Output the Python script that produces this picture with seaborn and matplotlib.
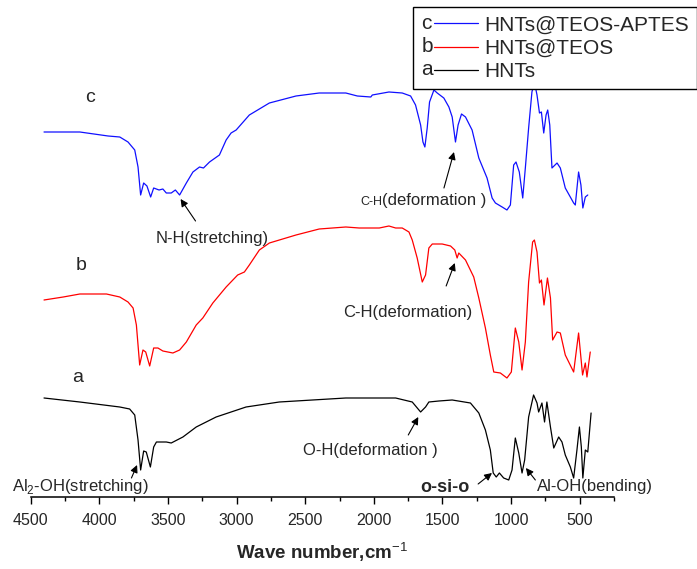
import numpy as np
import pandas as pd
import matplotlib
matplotlib.use("Agg")
import matplotlib.pyplot as plt
import seaborn as sns
from matplotlib.legend_handler import HandlerLine2D
from matplotlib.text import Text

# Espectros FTIR (numero de onda, senal en unidades arbitrarias)
wn_c = [4403, 4142, 3936, 3851, 3791, 3742, 3718, 3699, 3677, 3653, 3626, 3604, 3565, 3537,
        3512, 3476, 3446, 3415, 3366, 3318, 3270, 3241, 3197, 3125, 3076, 3040, 3003, 2907,
        2761, 2567, 2398, 2204, 2120, 2022, 2011, 1890, 1793, 1732, 1696, 1659, 1642, 1628,
        1611, 1594, 1562, 1538, 1490, 1453, 1429, 1405, 1386, 1361, 1332, 1284, 1235, 1175,
        1138, 1114, 1065, 1030, 1005, 981, 964, 940, 915, 896, 872, 848, 830, 811, 793, 779,
        762, 745, 733, 718, 702, 665, 641, 605, 544, 532, 508, 491, 477, 459, 441]
t_c = [365, 365, 361, 360, 355, 347, 330, 302, 314, 311, 300, 309, 307, 308,
       304, 304, 307, 302, 314, 325, 330, 329, 335, 342, 357, 364, 367, 382,
       394, 401, 404, 404, 401, 400, 402, 405, 404, 401, 392, 372, 355, 350,
       369, 395, 407, 404, 399, 390, 380, 355, 372, 383, 380, 367, 339, 319,
       299, 294, 290, 287, 292, 332, 335, 325, 299, 329, 369, 405, 415, 402, 384, 385,
       364, 382, 387, 372, 329, 334, 329, 309, 294, 292, 325, 312, 289, 300, 302]

wn_b = [4403, 4263, 4142, 3948, 3851, 3791, 3754, 3730, 3706, 3682, 3662, 3633, 3604, 3573,
        3537, 3464, 3415, 3366, 3294, 3246, 3173, 3076, 2992, 2943, 2907, 2834, 2761, 2567,
        2398, 2204, 2107, 1960, 1890, 1841, 1793, 1744, 1720, 1684, 1647, 1623, 1599, 1574,
        1502, 1441, 1410, 1393, 1381, 1332, 1272, 1235, 1187, 1151, 1126, 1078, 1030, 998,
        969, 944, 920, 896, 872, 843, 830, 811, 793, 779, 760, 735, 713, 697, 665, 641,
        605, 544, 508, 479, 459, 447, 423]
t_b = [197, 200, 203, 203, 200, 195, 189, 172, 132, 147, 145, 131, 149, 149,
       146, 144, 147, 155, 172, 179, 194, 210, 222, 225, 232, 247, 254, 262,
       268, 270, 269, 269, 271, 269, 269, 265, 257, 239, 215, 222, 249, 253,
       253, 251, 247, 239, 244, 237, 220, 199, 169, 142, 125, 124, 119, 125,
       169, 155, 127, 155, 215, 255, 257, 245, 214, 217, 192, 219, 199, 157, 165, 164,
       142, 125, 164, 122, 134, 120, 145]

wn_a = [4403, 4142, 3851, 3779, 3742, 3718, 3699, 3677, 3658, 3628, 3604, 3584, 3512, 3476,
        3391, 3294, 3149, 2931, 2689, 2447, 2204, 1841, 1720, 1659, 1623, 1599, 1526, 1429,
        1296, 1235, 1187, 1151, 1130, 1108, 1085, 1054, 1017, 993, 969, 944, 920, 901, 872,
        836, 811, 799, 775, 756, 739, 713, 689, 653, 629, 605, 568, 544, 520, 502, 488,
        477, 459, 441, 417]
t_a = [99, 95, 90, 88, 82, 57, 27, 46, 45, 30, 50, 55, 55, 54,
       60, 70, 80, 90, 95, 97, 99, 99, 95, 85, 90, 95, 96, 97,
       94, 84, 67, 47, 24, 20, 24, 19, 17, 27, 59, 44, 24, 37, 80,
       102, 94, 85, 94, 75, 95, 70, 49, 60, 55, 42, 30, 19, 47, 70, 50,
       19, 47, 45, 84]

letters = ["c", "b", "a"]
names = ["HNTs@TEOS-APTES", "HNTs@TEOS", "HNTs"]


class LetterLine(HandlerLine2D):
    # pone la letra de la muestra delante de la linea de la leyenda
    def __init__(self, letter):
        super().__init__()
        self.letter = letter

    def create_artists(self, legend, orig_handle, xdescent, ydescent, width, height, fontsize, trans):
        arts = super().create_artists(legend, orig_handle, xdescent, ydescent, width, height, fontsize, trans)
        gap = 0.58 * fontsize
        ymid = (height - ydescent) / 2
        for a in arts:
            xd = np.asarray(a.get_xdata(), dtype=float)
            yd = np.asarray(a.get_ydata(), dtype=float)
            if len(xd) >= 2 and a.get_linestyle() not in ("None", "none", ""):
                ymid = yd[0]
                a.set_data([xd.min() + gap, xd.max()], [ymid, ymid])
        t = Text(-xdescent, ymid, self.letter, fontsize=fontsize, va="center", ha="left",
                 transform=trans)
        return list(arts) + [t]


sns.set_style("ticks")
plt.rcParams["font.family"] = ["Liberation Sans", "DejaVu Sans"]
plt.rcParams["mathtext.fontset"] = "custom"
plt.rcParams["mathtext.rm"] = "Liberation Sans"
plt.rcParams["mathtext.bf"] = "Liberation Sans:bold"
plt.rcParams["axes.unicode_minus"] = False

fig = plt.figure(figsize=(6.97, 5.69), dpi=100)
ax = fig.add_axes([30.7 / 697, 72 / 569, (614 - 30.7) / 697, 497 / 569])

df_c = pd.DataFrame({"wn": wn_c, "T": t_c})
df_b = pd.DataFrame({"wn": wn_b, "T": t_b})
df_a = pd.DataFrame({"wn": wn_a, "T": t_a})

sns.lineplot(data=df_c, x="wn", y="T", color="#1010ff", linewidth=0.9, ax=ax)
lc = ax.lines[-1]
sns.lineplot(data=df_b, x="wn", y="T", color="#ff0000", linewidth=0.9, ax=ax)
lb = ax.lines[-1]
sns.lineplot(data=df_a, x="wn", y="T", color="black", linewidth=0.9, ax=ax)
la = ax.lines[-1]

ax.set_xlim(4500, 250)
ax.set_ylim(0, 497)
for s in ["left", "right", "top"]:
    ax.spines[s].set_visible(False)
ax.spines["bottom"].set_linewidth(1.1)
ax.spines["bottom"].set_color("black")
ax.set_yticks([])
ax.set_ylabel("")
ax.set_xticks(np.arange(4500, 499, -500))
ax.set_xticks(np.arange(4250, 249, -500), minor=True)
ax.tick_params(axis="x", which="both", bottom=True, top=False, direction="out", color="black")
ax.tick_params(axis="x", which="major", length=5, width=1, labelsize=11.5, pad=6.5)
ax.tick_params(axis="x", which="minor", length=3.2, width=1)
ax.set_xlabel(r"Wave number,cm$^{-1}$", fontsize=13.5, fontweight="bold", labelpad=9)

# letras de cada espectro
ax.text(4069, 400, "c", fontsize=14, ha="center", va="center")
ax.text(4130, 232, "b", fontsize=14, ha="center", va="center")
ax.text(4156, 120, "a", fontsize=14, ha="center", va="center")

arrow = dict(arrowstyle="-|>", color="black", lw=0.8, mutation_scale=11, shrinkA=0, shrinkB=0)

ax.text(3175, 259, "N-H(stretching)", fontsize=12, ha="center", va="center")
ax.annotate("", xy=(3408, 298), xytext=(3299, 276), arrowprops=arrow)

ax.text(1940, 292, "C-H", fontsize=9, ha="right", va="baseline")
ax.text(1940, 292, "(deformation )", fontsize=12, ha="left", va="baseline")
ax.annotate("", xy=(1416, 345), xytext=(1489, 309), arrowprops=arrow)

ax.text(1751, 185, "C-H(deformation)", fontsize=12, ha="center", va="center")
ax.annotate("", xy=(1410, 234), xytext=(1473, 211), arrowprops=arrow)

ax.text(2027, 47, "O-H(deformation )", fontsize=12, ha="center", va="center")
ax.annotate("", xy=(1676, 80), xytext=(1749, 62), arrowprops=arrow)

ax.text(4142, 10, r"Al$_2$-OH(stretching)", fontsize=12, ha="center", va="center", clip_on=False)
ax.annotate("", xy=(3725, 32), xytext=(3766, 19), arrowprops=arrow)

ax.text(1484, 9, "o-si-o", fontsize=13, fontweight="bold", ha="center", va="center")
ax.annotate("", xy=(1139, 24), xytext=(1240, 13), arrowprops=arrow)

ax.text(387, 11, "Al-OH(bending)", fontsize=12, ha="center", va="center", clip_on=False)
ax.annotate("", xy=(892, 29), xytext=(823, 17), arrowprops=arrow)

leg = ax.legend(handles=[lc, lb, la], labels=names,
                handler_map={lc: LetterLine("c"), lb: LetterLine("b"), la: LetterLine("a")},
                loc="upper right", bbox_to_anchor=(1.0, 1 - 7.3 / 569), bbox_transform=fig.transFigure,
                frameon=True, fancybox=False, framealpha=1, edgecolor="black", fontsize=15,
                handlelength=2.7, handletextpad=0.3, borderpad=0.4, labelspacing=0.2,
                borderaxespad=0)
leg.get_frame().set_linewidth(1.0)

fig.savefig("out.png", dpi=100)
